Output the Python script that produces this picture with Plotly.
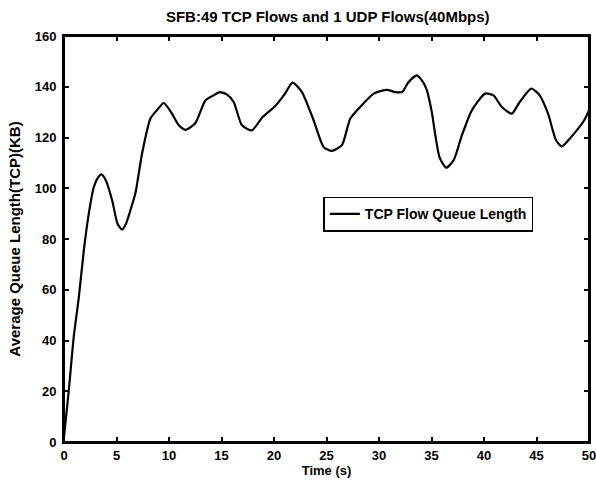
import plotly.graph_objects as go

time_s = [0, 0.2, 0.46, 0.93, 1.41, 1.89, 2.36, 2.84, 3.2, 3.57, 4.0, 4.6, 5.1, 5.53, 5.9, 6.3, 6.8, 7.44, 8.23, 8.9, 9.5,
          10.2, 10.9, 11.56, 12.5, 13.46, 14.2, 14.83, 15.5, 16.16, 16.95, 17.9, 18.86, 20.1, 21.0, 21.77,
          22.66, 23.77, 24.72, 25.5, 26.47, 27.26, 28.2, 29.5, 30.75, 31.54, 32.2, 32.8, 33.6, 34.2, 34.56,
          35.0, 35.76, 36.4, 37.1, 37.9, 38.84, 40.1, 40.9, 41.7, 42.65, 43.4, 44.5, 45.3, 46.1, 46.86,
          47.4, 48.03, 48.83, 49.5, 50]
queue_kb = [2, 10, 20.5, 41.5, 57, 75.6, 90, 100.5, 104, 105.5, 103, 95, 86, 83.7, 86, 91, 98, 113.8, 127.5, 131, 133.6,
            130, 125, 123, 125.6, 134.6, 136.5, 137.9, 137, 134, 124.8, 122.8, 127.8, 132.3, 137, 141.6,
            137.9, 126.8, 116.3, 114.7, 117, 127.4, 132, 137.3, 138.8, 137.9, 137.9, 141.8, 144.5, 141.8, 138.6,
            130.7, 112.3, 108.1, 111, 120.9, 130.7, 137.3, 136.6, 132, 129.4, 134, 139.3, 136.6, 129.4, 118.9,
            116.5, 118.9, 122.8, 126.5, 130.7]

x_ticks = [0, 5, 10, 15, 20, 25, 30, 35, 40, 45, 50]
y_ticks = [0, 20, 40, 60, 80, 100, 120, 140, 160]

title_text = "SFB:49 TCP Flows and 1 UDP Flows(40Mbps)"
x_label = "Time (s)"
y_label = "Average Queue Length(TCP)(KB)"
series_name = "TCP Flow Queue Length"

FONT = "Liberation Sans, Arial, sans-serif"

fig = go.Figure()
fig.add_trace(go.Scatter(
    x=time_s, y=queue_kb, mode="lines", name="<b>" + series_name + "</b>",
    line=dict(color="black", width=2.2, shape="spline", smoothing=0.6),
))

axis_common = dict(
    showline=True, linecolor="black", linewidth=2, mirror="ticks",
    ticks="inside", ticklen=5, tickwidth=1.5, tickcolor="black",
    showgrid=False, zeroline=False, automargin=False,
    ticklabeloverflow="allow",
    tickfont=dict(family=FONT, size=13, color="black"),
)

fig.update_layout(
    width=596, height=487,
    paper_bgcolor="white", plot_bgcolor="white",
    margin=dict(l=64, r=7, t=36, b=45),
    title=dict(text="<b>" + title_text + "</b>", x=0.55, xanchor="center", y=0.965, yanchor="middle",
               font=dict(family=FONT, size=15, color="black")),
    xaxis=dict(range=[0, 50], tickvals=x_ticks, ticktext=[f"<b>{v}</b>" for v in x_ticks],
               title=dict(text="<b>" + x_label + "</b>", font=dict(family=FONT, size=13, color="black"), standoff=4),
               **axis_common),
    yaxis=dict(range=[0, 160], tickvals=y_ticks, ticktext=[f"<b>{v}</b>" for v in y_ticks],
               ticklabelstandoff=3,
               title=dict(text="<b>" + y_label + "</b>", font=dict(family=FONT, size=15, color="black"), standoff=10),
               **axis_common),
    legend=dict(x=0.494, y=0.604, xanchor="left", yanchor="top",
                bordercolor="black", borderwidth=1.5, bgcolor="white",
                font=dict(family=FONT, size=14, color="black")),
    showlegend=True,
    shapes=[dict(type="rect", xref="paper", yref="paper", x0=0, x1=1, y0=0, y1=1,
                 line=dict(color="black", width=2), fillcolor="rgba(0,0,0,0)", layer="above")],
)

# remove the default 8px page margin so the figure fills the window exactly
fig.write_html("out.html", config=dict(displayModeBar=False),
               post_script="document.body.style.margin='0';document.body.style.overflow='hidden';")
